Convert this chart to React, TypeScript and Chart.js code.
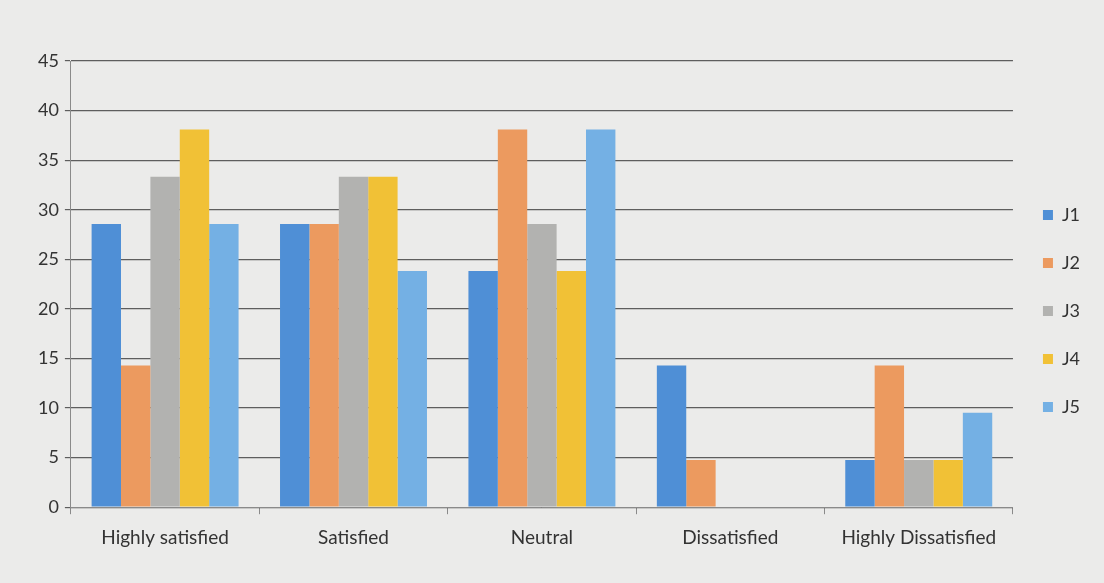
import React, { useEffect, useRef } from "react";
import { Chart, registerables } from "chart.js";

Chart.register(...registerables);

const categories = ["Highly satisfied", "Satisfied", "Neutral", "Dissatisfied", "Highly Dissatisfied"];
const seriesNames = ["J1", "J2", "J3", "J4", "J5"];
const j1 = [28.57, 28.57, 23.81, 14.29, 4.76];
const j2 = [14.29, 28.57, 38.1, 4.76, 14.29];
const j3 = [33.33, 33.33, 28.57, 0, 4.76];
const j4 = [38.1, 33.33, 23.81, 0, 4.76];
const j5 = [28.57, 23.81, 38.1, 0, 9.52];
const yTicks = [0, 5, 10, 15, 20, 25, 30, 35, 40, 45];

const seriesValues = [j1, j2, j3, j4, j5];
const colors = ["#4f8fd6", "#ec9a5f", "#b2b2b0", "#f1c136", "#74b0e4"];

export default function App() {
  const ref = useRef<HTMLCanvasElement | null>(null);
  useEffect(() => {
    if (!ref.current) return;
    const font = "Lato, 'Open Sans', sans-serif";
    const chart = new Chart(ref.current, {
      type: "bar",
      data: {
        labels: categories,
        datasets: seriesNames.map((name, i) => ({
          label: name,
          data: seriesValues[i],
          backgroundColor: colors[i],
          borderWidth: 0,
          barPercentage: 1,
          categoryPercentage: 0.78,
        })),
      },
      options: {
        animation: false,
        responsive: false,
        maintainAspectRatio: false,
        layout: { padding: { top: 61, bottom: 22, left: 32, right: 14 } },
        plugins: {
          legend: {
            position: "right",
            labels: {
              boxWidth: 10,
              boxHeight: 10,
              padding: 30,
              color: "#333",
              font: { family: font, size: 18 },
            },
          },
          tooltip: { enabled: false },
        },
        scales: {
          x: {
            grid: {
              offset: true,
              drawOnChartArea: false,
              drawTicks: true,
              tickLength: 7,
              color: "#8a8a8a",
            },
            border: { display: true, color: "#8a8a8a" },
            ticks: {
              color: "#333",
              padding: 12,
              maxRotation: 0,
              font: { family: font, size: 19 },
            },
          },
          y: {
            min: 0,
            max: 45,
            afterBuildTicks: (axis: any) => {
              axis.ticks = yTicks.map((v) => ({ value: v }));
            },
            grid: {
              color: "#5e5e5e",
              lineWidth: 1.2,
              tickLength: 6,
            },
            border: { display: true, color: "#8a8a8a" },
            ticks: {
              color: "#333",
              padding: 6,
              font: { family: font, size: 18 },
            },
          },
        },
      },
    });
    return () => chart.destroy();
  }, []);
  return (
    <div style={{ position: "fixed", left: 0, top: 0, width: 1104, height: 583, background: "#ebebea" }}>
      <canvas ref={ref} width={1104} height={583} style={{ display: "block", width: 1104, height: 583 }} />
    </div>
  );
}
